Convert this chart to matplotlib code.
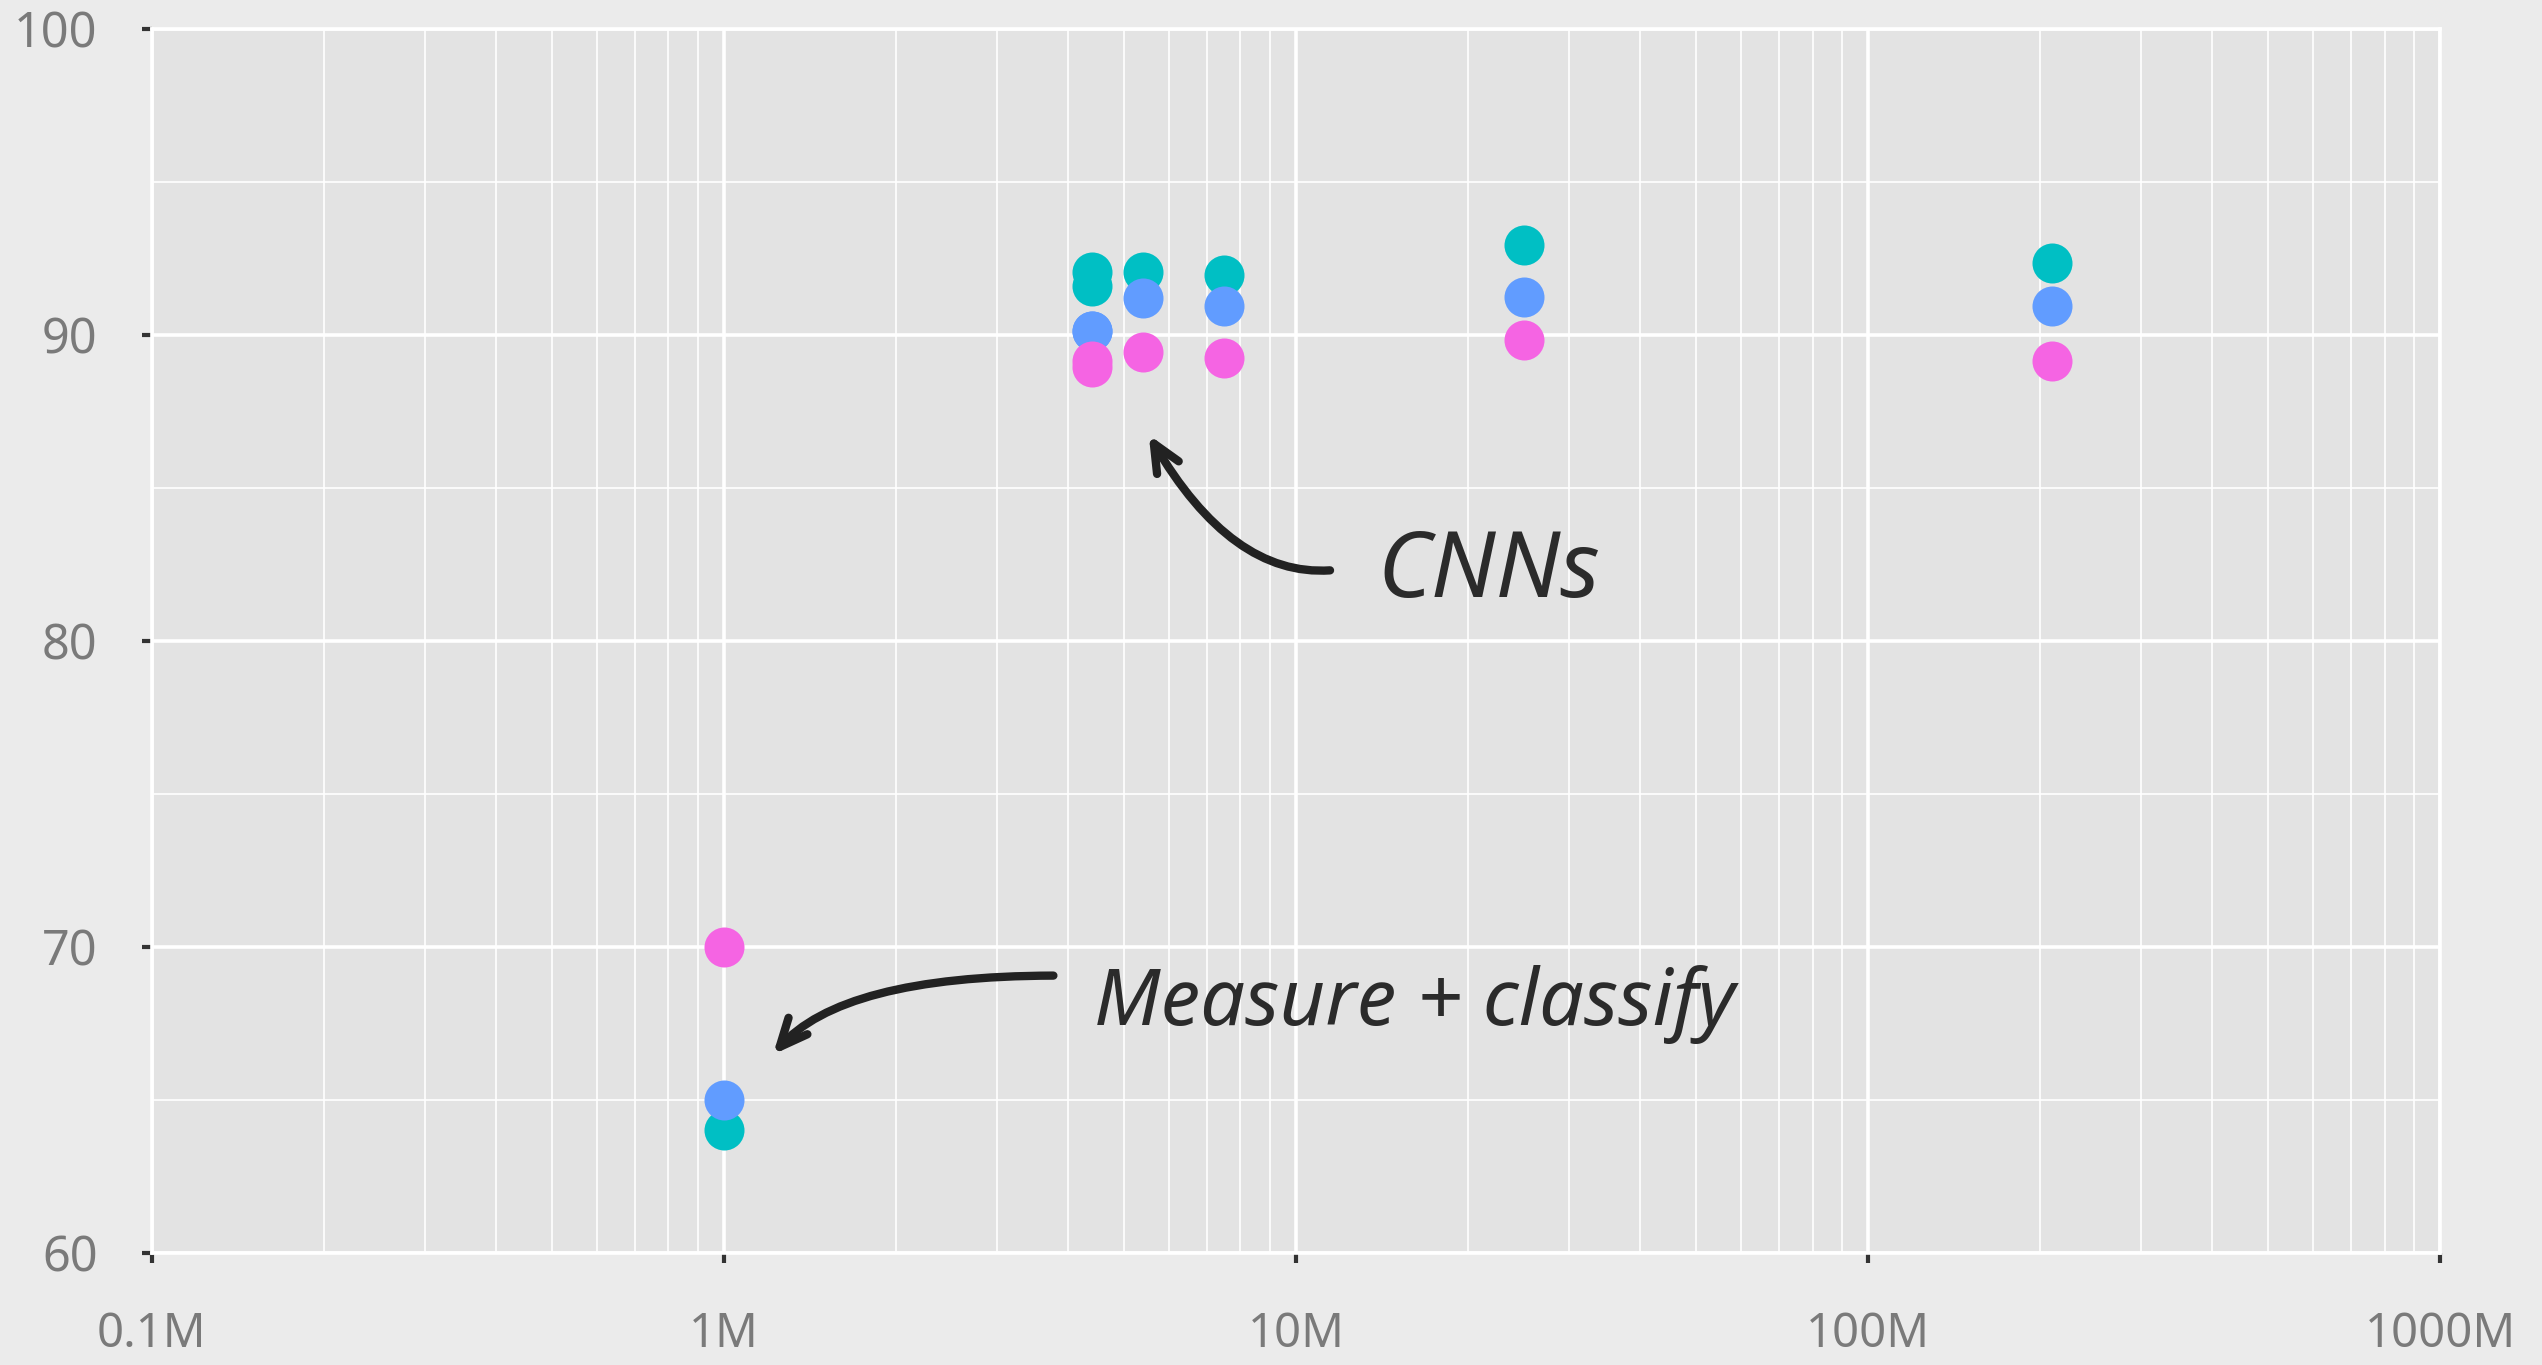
import matplotlib
matplotlib.use("Agg")
import matplotlib.pyplot as plt
from matplotlib.ticker import FixedLocator, FixedFormatter, LogLocator, MultipleLocator

# parameter counts (millions) and accuracy for the three series
params_m = [1.0, 4.4, 4.4, 5.4, 7.5, 25.0, 210.0]
acc_teal = [64.0, 92.04, 91.6, 92.04, 91.93, 92.94, 92.34]
acc_blue = [65.0, 90.13, 90.13, 91.21, 90.92, 91.22, 90.92]
acc_pink = [70.0, 89.15, 88.93, 89.42, 89.23, 89.83, 89.12]

series_colors = ["#00BFC4", "#619CFF", "#F564E3"]

x_ticks = [1e5, 1e6, 1e7, 1e8, 1e9]
x_labels = ["0.1M", "1M", "10M", "100M", "1000M"]
y_ticks = [60, 70, 80, 90, 100]

BG = "#ebebeb"
PANEL = "#e3e3e3"
LABEL = "#7a7a7a"
INK = "#2b2b2b"
plt.rcParams["font.family"] = ["Noto Sans", "DejaVu Sans"]

fig = plt.figure(figsize=(25.42, 13.65), dpi=100, facecolor=BG)
ax = fig.add_axes([0.0597, 0.0824, 0.9002, 0.8967], facecolor=PANEL)

ax.set_xscale("log")
ax.set_xlim(1e5, 1e9)
ax.set_ylim(60, 100)

ax.xaxis.set_major_locator(FixedLocator(x_ticks))
ax.xaxis.set_major_formatter(FixedFormatter(x_labels))
ax.xaxis.set_minor_locator(LogLocator(base=10, subs=range(2, 10), numticks=20))
ax.yaxis.set_major_locator(FixedLocator(y_ticks))
ax.yaxis.set_minor_locator(MultipleLocator(5))

ax.grid(which="major", color="white", linewidth=2.6)
ax.grid(which="minor", color="white", linewidth=1.2)
ax.set_axisbelow(True)

for side, sp in ax.spines.items():
    sp.set_color("white")
    sp.set_linewidth(2.6)

ax.tick_params(which="major", length=7, width=3, color="#333333",
               labelcolor=LABEL, labelsize=35)
ax.tick_params(axis="y", pad=32)
ax.tick_params(axis="x", pad=35, labelsize=34)
ax.tick_params(which="minor", length=0)

xs = [p * 1e6 for p in params_m]
for vals, c in zip([acc_teal, acc_blue, acc_pink], series_colors):
    ax.scatter(xs, vals, s=830, color=c, linewidths=0, zorder=3)

# hand-written style notes
arrow = dict(arrowstyle="->,head_length=2.0,head_width=0.9",
             color="#222222", lw=6, capstyle="round", joinstyle="round")

ax.text(13.9e6, 82.2, "CNNs", fontsize=66, style="italic", color=INK,
        ha="left", va="center")
ax.annotate("", xy=(5.5e6, 86.8), xytext=(11.6e6, 82.3),
            arrowprops=dict(connectionstyle="angle3,angleA=5,angleB=-60", **arrow))

ax.text(4.43e6, 68.1, "Measure + classify", fontsize=57, style="italic",
        color=INK, ha="left", va="center")
ax.annotate("", xy=(1.21e6, 66.4), xytext=(3.81e6, 69.05),
            arrowprops=dict(connectionstyle="angle3,angleA=0,angleB=50", **arrow))

fig.savefig("out.png", dpi=100, facecolor=BG)
